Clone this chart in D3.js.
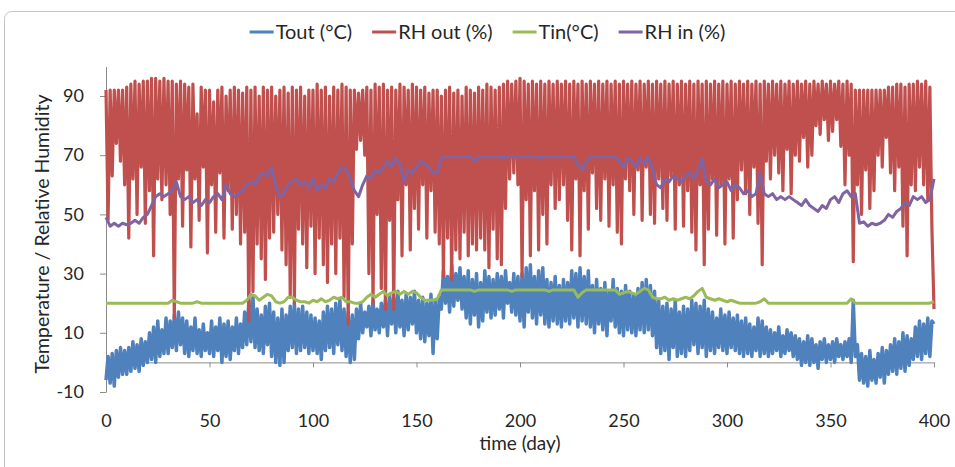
<!DOCTYPE html>
<html>
<head>
<meta charset="utf-8">
<script src="https://cdn.jsdelivr.net/npm/d3@7"></script>
<style>
  body { margin: 0; background: #fff; }
  svg { display: block; font-family: Lato, "Open Sans", sans-serif; }
</style>
</head>
<body>
<svg id="chart" width="955" height="467"></svg>
<script>
// outdoor readings, one per day (day 0 .. 400)
var toutC = [
  -6,2,-7,3,-8,4,-5,5,-4,4,  -4,5,-3,7,-2,6,-3,8,-1,7,  0,10,1,12,0,14,2,11,3,15,  3,14,5,16,4,17,6,15,3,14,
  2,12,4,15,3,11,2,13,4,10,  3,14,2,12,4,15,0,13,2,14,  1,12,4,15,3,13,5,17,6,21,  7,22,5,18,4,16,3,19,6,20,
  2,17,0,15,-1,18,0,16,4,19,  5,20,3,18,4,19,5,17,3,16,  4,15,3,14,1,17,4,19,5,18,  3,20,6,21,4,18,2,17,0,16,
  1,18,8,20,10,17,12,19,9,21,  11,18,10,20,12,21,9,23,13,22,  10,24,12,21,9,23,11,22,13,24,  10,21,8,22,7,20,9,23,3,21,
  8,22,18,31,20,29,17,33,19,30,  21,32,18,29,15,31,13,28,16,30,  12,27,14,31,17,29,15,28,16,30,  18,29,15,31,20,27,17,30,16,29,
  14,30,12,32,17,33,15,29,13,31,  16,32,13,28,12,27,14,29,13,26,  12,28,14,27,13,31,15,30,12,32,  14,29,13,31,12,26,10,28,13,25,
  11,27,9,24,14,28,12,25,10,24,  9,26,11,24,10,23,9,25,11,27,  10,28,11,26,9,24,5,21,3,19,  4,20,1,18,5,21,2,17,3,19,
  2,18,4,21,6,20,3,19,5,21,  2,18,4,17,3,15,5,18,4,16,  3,17,5,15,4,16,3,14,2,15,  3,13,2,12,4,15,2,14,3,12,
  2,11,3,10,4,12,2,9,3,11,  4,10,2,9,1,8,-1,7,0,9,  -1,8,0,6,-2,7,1,8,0,6,  1,7,0,8,2,6,1,7,2,8,
  0,21,2,6,-6,3,-7,2,-8,4,  -6,1,-7,3,-5,5,-7,4,-4,6,  -3,8,-4,7,-2,10,-3,9,-1,8,  1,12,2,14,1,13,3,15,2,14,
  13
];
var rhOut = [
  92,48,92,63,92,74,92,68,92,60,  93,42,94,62,95,50,94,66,95,47,  95,58,96,36,96,62,95,55,96,60,  95,50,95,15,94,62,95,46,94,65,
  93,39,94,62,84,48,93,66,92,37,  92,60,88,44,92,64,93,42,90,58,  92,45,93,50,92,40,91,44,93,14,  92,24,93,40,90,35,93,28,92,42,
  93,44,90,50,92,38,93,33,91,22,  93,20,92,45,93,40,90,32,92,46,  92,30,94,42,92,33,93,27,90,40,  93,30,92,42,94,22,93,13,92,40,
  92,72,91,75,92,70,93,30,92,20,  94,50,93,25,94,18,92,48,93,18,  92,55,94,36,93,60,92,38,94,52,  93,45,92,60,93,42,91,58,92,44,
  92,40,90,29,92,42,93,28,91,38,  92,35,90,44,93,36,92,40,91,38,  93,42,92,38,94,32,93,45,92,35,  93,33,94,52,95,62,94,64,95,60,
  96,29,95,55,94,36,95,58,94,38,  95,50,94,40,95,60,94,52,95,55,  94,60,95,48,94,38,95,62,94,36,  95,58,94,45,95,64,94,52,95,48,
  94,62,95,46,94,60,95,44,94,40,  95,62,94,58,95,50,94,65,95,48,  94,66,95,50,94,47,95,62,94,52,  95,48,94,63,95,45,94,60,95,46,
  94,58,95,44,94,38,95,60,94,33,  95,45,94,62,95,43,94,60,95,40,  94,62,95,42,94,55,95,65,94,57,  95,50,94,66,95,47,94,33,95,68,
  94,62,95,70,94,64,95,58,94,72,  95,57,94,70,95,68,94,76,95,66,  94,70,95,80,94,77,95,82,94,75,  95,78,94,82,95,73,94,60,95,70,
  94,34,92,60,92,50,92,65,92,52,  92,58,92,70,92,66,92,76,93,64,  93,58,94,66,94,46,93,36,94,60,  94,58,95,66,94,60,95,55,93,45,
  18
];
// indoor readings, one every 2 days (day 0 .. 400)
var tinC = [
  20,20,20,20,20,20,20,20,20,20,  20,20,20,20,20,20,21,20.5,20,20,  20,20,20.5,20,20,20,20,20,20,20,  20,20,20,20,21,23,22.5,21,22,23,
  22.5,20.5,20,20.5,22,22,21,20.5,20.5,20,  21,20.5,21.5,20.5,21,22,21.5,22,20.5,20.5,  20,20,20.5,22,23,22,23,24,22.5,23.5,
  24,23,24,23,24,23.5,22,21,21,21,  21.5,24.5,24.5,24.5,24.5,24.5,24.5,24.5,24.5,24,  24.5,24.5,24.5,24.5,24.5,24.5,24.5,24.5,24,24.5,
  24.5,24.5,24.5,24.5,24.5,24.5,24.5,24,24.5,24.5,  24.5,24.5,24.5,24.5,22,23.5,24.5,24.5,24.5,24.5,  24.5,24.5,24.5,24.5,23,23.5,24,23.5,23,24,
  25,24.5,22,21.5,21.5,22,21,21.5,21,21.5,  22,21.5,22.5,24,25,22,21.5,21,21.5,21,  20.5,21,20.5,20,20,20,20,20,20.5,21.5,
  20,20,20,20,20,20,20,20,20,20,  20,20,20,20,20,20,20,20,20,20,  21.5,20,20,20,20,20,20,20,20,20,  20,20,20,20,20,20,20,20,20,20,
  20.5
];
var rhIn = [
  49,46,47,46,47,46.5,47,48,47,49,  50,53,56,57,56,57,58,61,56,55,  56,54,55,53,55,54,56,57,55,60,  57,56,57,58,60,61,60,63,64,63,
  66,60,56,57,60,61,62,60,61,59,  62,58,60,59,62,61,64,66,65,62,  58,56,60,63,62,65,64,66,68,66,  69,67,61,65,64,66,68,67,66,64,
  64,69,69.5,69.5,69.5,69.5,69.5,69.5,69.5,68,  69.5,69.5,69.5,69.5,69.5,69.5,69,69.5,69.5,69.5,  69.5,69.5,69.5,69.5,69.5,69,69.5,69.5,69.5,69.5,
  69.5,69.5,69.5,69.5,67,65,68,69.5,69.5,69.5,  69.5,69.5,69.5,69.5,68,66,69,68,66,69,  67,69.5,65,60,59,62,61,63,62,61,
  63,64,62,65,69,61,60,62,59,60,  61,58,60,59,57,58,56,57,64,57,  56,57,55,56,55,56,55,54,53,55,  53,52,51,53,52,55,56,54,57,58,
  56,57,47,47.5,46,47,46.5,47,48,50,  49,51,52,54,53,56,55,56,54,55,
  62
];

var dailyDays = d3.range(0, 401);
var twoDayDays = d3.range(0, 401, 2);

var seriesNames = ["Tout (°C)", "RH out (%)", "Tin(°C)", "RH in (%)"];
var seriesColors = ["#4F81BD", "#C0504D", "#9BBB59", "#8064A2"];
var yTicks = [-10, 10, 30, 50, 70, 90];
var xTicks = [0, 50, 100, 150, 200, 250, 300, 350, 400];

var svg = d3.select("#chart");

var x = d3.scaleLinear().domain([0, 400]).range([106, 934]);
var y = d3.scaleLinear().domain([-10, 100]).range([392, 66.4]);

// chart frame (excel style rounded border)
svg.append("rect")
    .attr("x", 4.5).attr("y", 11.5)
    .attr("width", 1000).attr("height", 600)
    .attr("rx", 7)
    .attr("fill", "none")
    .attr("stroke", "#c4c4c4");

// axes, plain hyphen for negatives like the original
var plain = function(d) { return String(d); };

var yAxis = svg.append("g")
    .attr("class", "yAxis")
    .attr("transform", "translate(" + x(0) + ",0)")
    .call(d3.axisLeft(y).tickValues(yTicks).tickFormat(plain)
        .tickSize(6).tickSizeOuter(0).tickPadding(16));

var xAxis = svg.append("g")
    .attr("class", "xAxis")
    .attr("transform", "translate(0," + y(0) + ")")
    .call(d3.axisBottom(x).tickValues(xTicks).tickFormat(plain)
        .tickSize(5).tickSizeOuter(0));

xAxis.selectAll("text").attr("y", 52);

svg.selectAll(".yAxis path, .xAxis path, .yAxis line, .xAxis line")
    .attr("stroke", "#8c8c8c");
svg.selectAll(".yAxis text, .xAxis text")
    .attr("fill", "#262626")
    .attr("font-size", 18)
    .attr("font-family", "Lato, 'Open Sans', sans-serif");

// series, drawn in the workbook order
var allSeries = [
    {values: toutC, days: dailyDays, width: 3.5},
    {values: rhOut, days: dailyDays, width: 3.2},
    {values: tinC, days: twoDayDays, width: 3},
    {values: rhIn, days: twoDayDays, width: 3}
];

allSeries.forEach(function(s, k) {
    var line = d3.line()
        .x(function(d, i) { return x(s.days[i]); })
        .y(function(d) { return y(d); });
    svg.append("path")
        .datum(s.values)
        .attr("d", line)
        .attr("fill", "none")
        .attr("stroke", seriesColors[k])
        .attr("stroke-width", s.width)
        .attr("stroke-linejoin", "round");
});

// axis titles
svg.append("text")
    .attr("transform", "translate(42,234) rotate(-90)")
    .attr("text-anchor", "middle")
    .attr("dy", "0.35em")
    .attr("font-size", 19.5)
    .attr("fill", "#262626")
    .text("Temperature / Relative Humidity");

svg.append("text")
    .attr("x", (x(0) + x(400)) / 2)
    .attr("y", 443)
    .attr("text-anchor", "middle")
    .attr("dy", "0.35em")
    .attr("font-size", 19)
    .attr("fill", "#262626")
    .text("time (day)");

// legend, laid out left to right then centred
var legend = svg.append("g").attr("class", "legend");
var cursor = 0;
seriesNames.forEach(function(name, k) {
    var item = legend.append("g").attr("transform", "translate(" + cursor + ",0)");
    item.append("line")
        .attr("x1", 0).attr("x2", 24)
        .attr("stroke", seriesColors[k])
        .attr("stroke-width", 3);
    var t = item.append("text")
        .attr("x", 26)
        .attr("dy", "0.35em")
        .attr("font-size", 20)
        .attr("fill", "#262626")
        .text(name);
    cursor += 26 + t.node().getComputedTextLength() + 20;
});
var legendWidth = cursor - 20;
legend.attr("transform", "translate(" + (487.5 - legendWidth / 2) + ",32)");
</script>
</body>
</html>
